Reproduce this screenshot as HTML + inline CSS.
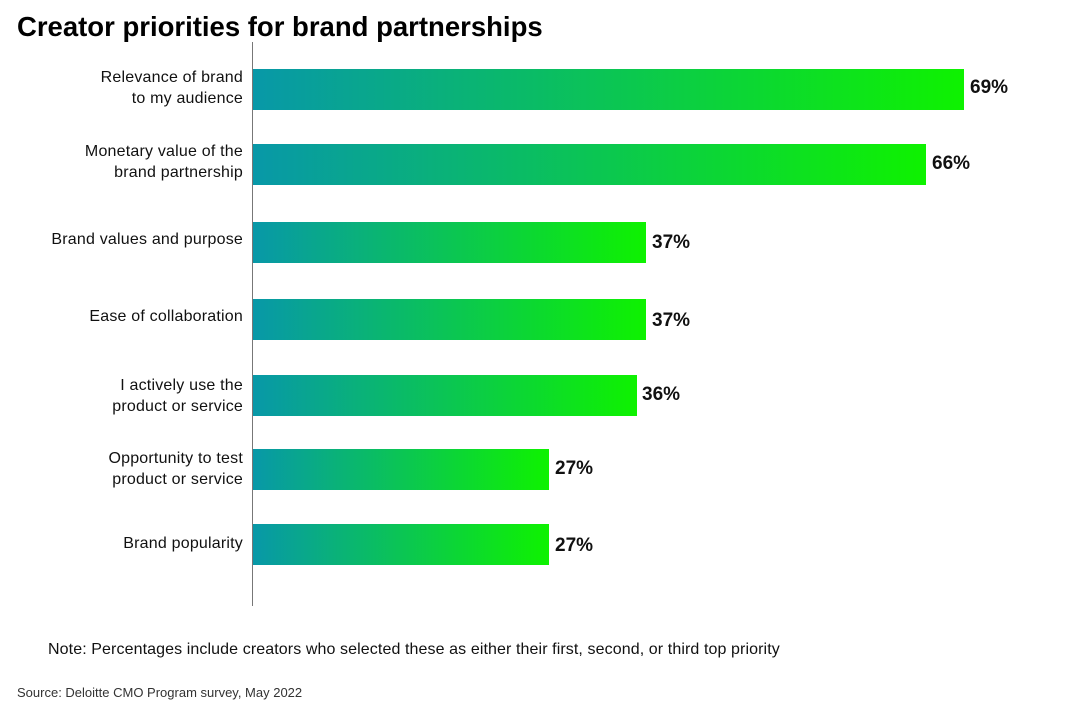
<!DOCTYPE html>
<html><head><style>
body{margin:0;width:1092px;height:712px;background:#fff;position:relative;font-family:"Liberation Sans",sans-serif;overflow:hidden}
.t{position:absolute;left:17px;top:11px;font-size:27.5px;font-weight:bold;color:#000}
.ax{position:absolute;left:252px;top:42px;width:1px;height:564px;background:#777}
.b{position:absolute;left:253px;height:41px;background:linear-gradient(to right,#0898a8,#0ef200)}
.l{position:absolute;right:849px;text-align:right;font-size:16px;line-height:21px;color:#111;font-weight:500;letter-spacing:0.2px}
.v{position:absolute;font-size:19px;font-weight:bold;color:#111}
.n{position:absolute;left:48px;top:641px;font-size:16px;color:#111;letter-spacing:0.1px}
.s{position:absolute;left:17px;top:685px;font-size:13px;color:#333}
</style></head><body>
<div class="t">Creator priorities for brand partnerships</div>
<div class="ax"></div>
<div class="b" style="top:69px;width:711px"></div><div class="v" style="left:970px;top:77px">69%</div>
<div class="l" style="top:67px">Relevance of brand<br>to my audience</div>
<div class="b" style="top:144px;width:673px"></div><div class="v" style="left:932px;top:153px">66%</div>
<div class="l" style="top:141px">Monetary value of the<br>brand partnership</div>
<div class="b" style="top:222px;width:393px"></div><div class="v" style="left:652px;top:232px">37%</div>
<div class="l" style="top:229px">Brand values and purpose</div>
<div class="b" style="top:299px;width:393px"></div><div class="v" style="left:652px;top:310px">37%</div>
<div class="l" style="top:306px">Ease of collaboration</div>
<div class="b" style="top:375px;width:384px"></div><div class="v" style="left:642px;top:384px">36%</div>
<div class="l" style="top:375px">I actively use the<br>product or service</div>
<div class="b" style="top:449px;width:296px"></div><div class="v" style="left:555px;top:458px">27%</div>
<div class="l" style="top:448px">Opportunity to test<br>product or service</div>
<div class="b" style="top:524px;width:296px"></div><div class="v" style="left:555px;top:535px">27%</div>
<div class="l" style="top:533px">Brand popularity</div>
<div class="n">Note: Percentages include creators who selected these as either their first, second, or third top priority</div>
<div class="s">Source: Deloitte CMO Program survey, May 2022</div>
</body></html>
